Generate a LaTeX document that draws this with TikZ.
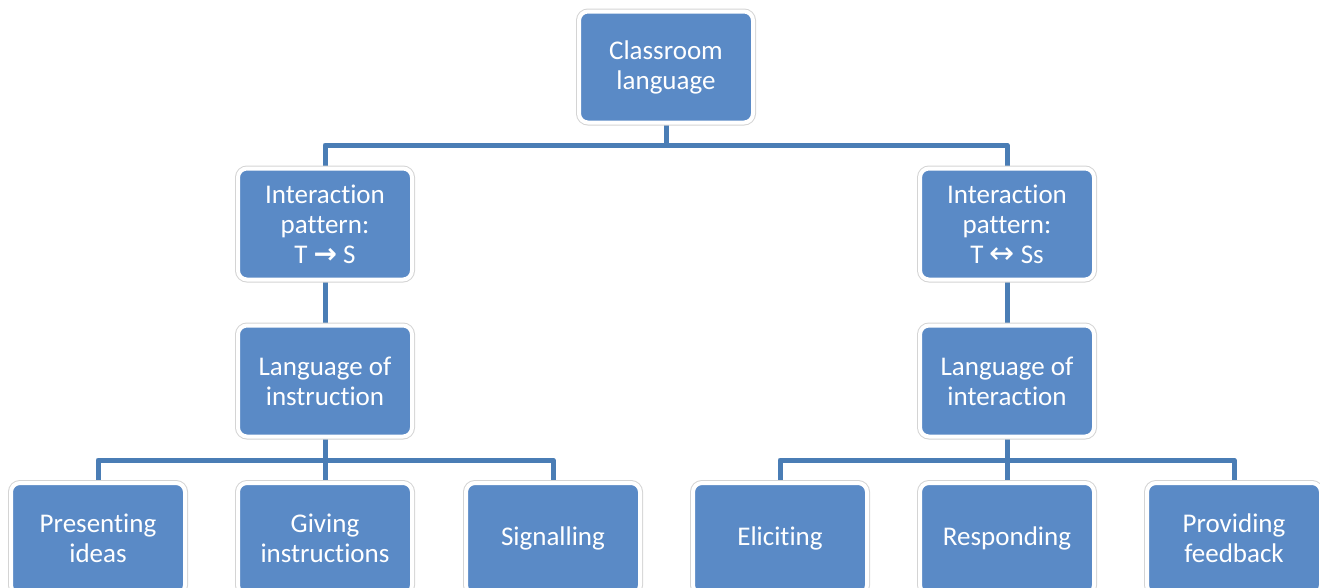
\documentclass[tikz,border=0pt]{standalone}
\usepackage{fontspec}
\setmainfont{Carlito}[Ligatures={NoCommon,NoContextual}]
\newfontfamily\arrowfont{DejaVu Sans}
\usetikzlibrary{backgrounds}
\definecolor{boxblue}{HTML}{5A8AC6}
\definecolor{lineblue}{HTML}{4A7DB5}
\definecolor{rimgray}{HTML}{D4D4D4}
\tikzset{
  box/.style={rectangle, rounded corners=9pt, fill=boxblue, draw=white, line width=4pt,
    preaction={draw=rimgray, line width=6pt},
    minimum width=174pt, minimum height=111pt, inner sep=0pt, align=center,
    text=white, font=\fontsize{27}{30}\selectfont},
  conn/.style={draw=lineblue, line width=5pt, line join=round}
}
\begin{document}
\begin{tikzpicture}[x=1pt,y=-1pt]
\useasboundingbox (0,0) rectangle (1320,587);
\clip (0,0) rectangle (1320,587);
\node[box] (root) at (666,67) {Classroom\\language};
\node[box] (ipa) at (325,224) {Interaction\\pattern:\\T {\arrowfont\bfseries\fontsize{28}{30}\selectfont →} S};
\node[box] (ipb) at (1007,224) {Interaction\\pattern:\\T {\arrowfont\fontsize{30}{30}\selectfont ↔} Ss};
\node[box] (loi) at (325,381) {Language of\\instruction};
\node[box] (lint) at (1007,381) {Language of\\interaction};
\node[box] (pres) at (98,538.5) {Presenting\\ideas};
\node[box] (give) at (325,538.5) {Giving\\instructions};
\node[box] (sig) at (553,538.5) {Signalling};
\node[box] (eli) at (780,538.5) {Eliciting};
\node[box] (resp) at (1007,538.5) {Responding};
\node[box] (prov) at (1234,538.5) {Providing\\feedback};
\coordinate (j1) at (666,145);
\coordinate (j2) at (325,460);
\coordinate (j3) at (1007,460);
\begin{pgfonlayer}{background}
\draw[conn] (root.south) -- (j1) -| (ipa.north);
\draw[conn] (j1) -| (ipb.north);
\draw[conn] (ipa.south) -- (loi.north);
\draw[conn] (ipb.south) -- (lint.north);
\draw[conn] (loi.south) -- (give.north);
\draw[conn] (j2) -| (pres.north);
\draw[conn] (j2) -| (sig.north);
\draw[conn] (lint.south) -- (resp.north);
\draw[conn] (j3) -| (eli.north);
\draw[conn] (j3) -| (prov.north);
\end{pgfonlayer}
\end{tikzpicture}
\end{document}
